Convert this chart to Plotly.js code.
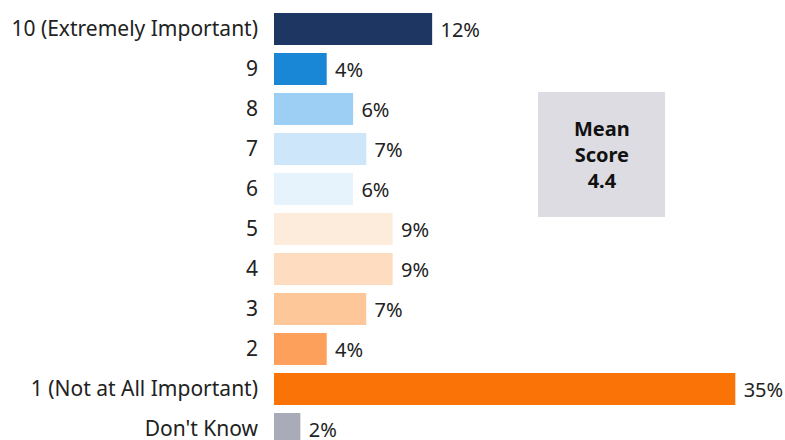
<!DOCTYPE html>
<html><head><meta charset="utf-8">
<script src="https://cdn.plot.ly/plotly-3.0.1.min.js"></script>
<style>html,body{margin:0;padding:0;background:#fff}</style>
</head><body>
<div id="chart" style="width:785px;height:440px"></div>
<script>
const categories = ["10 (Extremely Important)","9","8","7","6","5","4","3","2","1 (Not at All Important)","Don't Know"];
const values = [12,4,6,7,6,9,9,7,4,35,2];
const barColors = ["#1e3762","#1a87d6","#9dcff5","#cde6f9","#e6f2fc","#fdebdc","#fddcc0","#fdc799","#fca05b","#f97306","#a9abb8"];
const meanScore = 4.4;

const trace = {
  type: "bar", orientation: "h",
  x: values, y: categories,
  marker: {color: barColors, line: {width: 0}},
  width: 0.8,
  text: values.map(v => "\u2009\u200a" + v + "%"),
  textposition: "outside",
  textfont: {family: "Noto Sans", size: 20, color: "#222"},
  cliponaxis: false,
  hoverinfo: "skip"
};
const layout = {
  width: 785, height: 440,
  margin: {l: 274, r: 0, t: 9, b: 0},
  paper_bgcolor: "#fff", plot_bgcolor: "#fff",
  showlegend: false,
  xaxis: {range: [0, 38.77], visible: false, fixedrange: true},
  yaxis: {
    type: "category", categoryorder: "array", categoryarray: categories,
    range: [10.275, -0.5], showgrid: false, zeroline: false, showline: false,
    ticks: "", ticklabelstandoff: 15,
    tickfont: {family: "Noto Sans", size: 21, color: "#222"}
  },
  shapes: [{type: "rect", xref: "x", yref: "y", x0: 20.03, x1: 29.67, y0: 1.575, y1: 4.7,
    fillcolor: "#dcdce2", line: {width: 0}, layer: "below"}],
  annotations: [{xref: "x", yref: "y", x: 24.85, y: 3.14, showarrow: false,
    text: "<b>Mean<br>Score<br>" + meanScore.toFixed(1) + "</b>",
    font: {family: "Noto Sans", size: 20, color: "#111"}, align: "center"}]
};
Plotly.newPlot("chart", [trace], layout, {displayModeBar: false, staticPlot: true});
</script>
</body></html>
